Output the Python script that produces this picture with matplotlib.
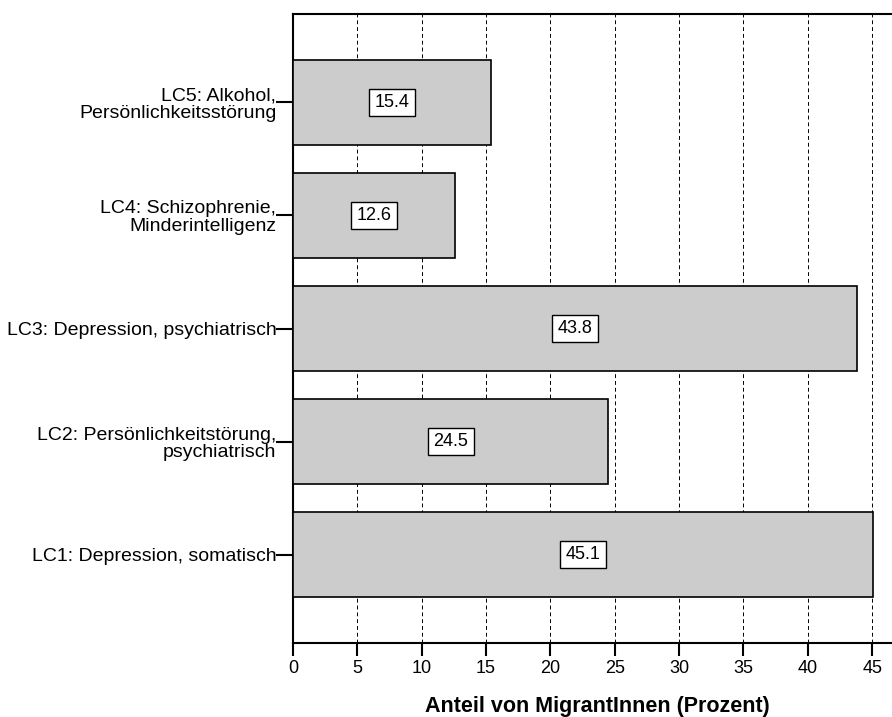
import matplotlib
matplotlib.use("Agg")
import matplotlib.pyplot as plt

categories = ["LC1: Depression, somatisch",
              "LC2: Persönlichkeitstörung,\npsychiatrisch",
              "LC3: Depression, psychiatrisch",
              "LC4: Schizophrenie,\nMinderintelligenz",
              "LC5: Alkohol,\nPersönlichkeitsstörung"]
values = [45.1, 24.5, 43.8, 12.6, 15.4]
xticks = [0, 5, 10, 15, 20, 25, 30, 35, 40, 45]
xlabel = "Anteil von MigrantInnen (Prozent)"

plt.rcParams['font.family'] = ['Liberation Sans', 'DejaVu Sans']

fig = plt.figure(figsize=(8.92, 7.17), dpi=100)
W, H = 892, 717
ax = fig.add_axes([293 / W, 1 - 643 / H, (W - 293) / W + 0.01, (643 - 14) / H])

ypos = list(range(len(categories)))
ax.barh(ypos, values, height=0.75, color="#cccccc", edgecolor="black", linewidth=1.2, zorder=3)
for y, v in zip(ypos, values):
    ax.text(v / 2, y, f"{v:.1f}", ha="center", va="center", fontsize=13, zorder=4,
            bbox=dict(boxstyle="square,pad=0.3", facecolor="white", edgecolor="black", linewidth=1))

ax.set_xlim(0, (W - 293) / 12.87 + 0.01 * W / 12.87)
ax.set_ylim(-0.783, 4.783)
ax.set_xticks(xticks)
ax.set_yticks(ypos)
ax.set_yticklabels(categories, fontsize=14, linespacing=1.05)
ax.tick_params(axis="x", labelsize=13, length=9, width=1.5, direction="out", pad=3)
ax.tick_params(axis="y", length=12, width=1.5, direction="out", pad=0)
for x in xticks[1:]:
    ax.axvline(x, color="black", linestyle=(0, (4, 3)), linewidth=0.7, zorder=1)
for s in ["left", "bottom", "top"]:
    ax.spines[s].set_linewidth(1.5)
ax.spines["right"].set_visible(False)
ax.set_xlabel(xlabel, fontsize=15.5, fontweight="bold", labelpad=14)

fig.savefig("out.png", dpi=100)
